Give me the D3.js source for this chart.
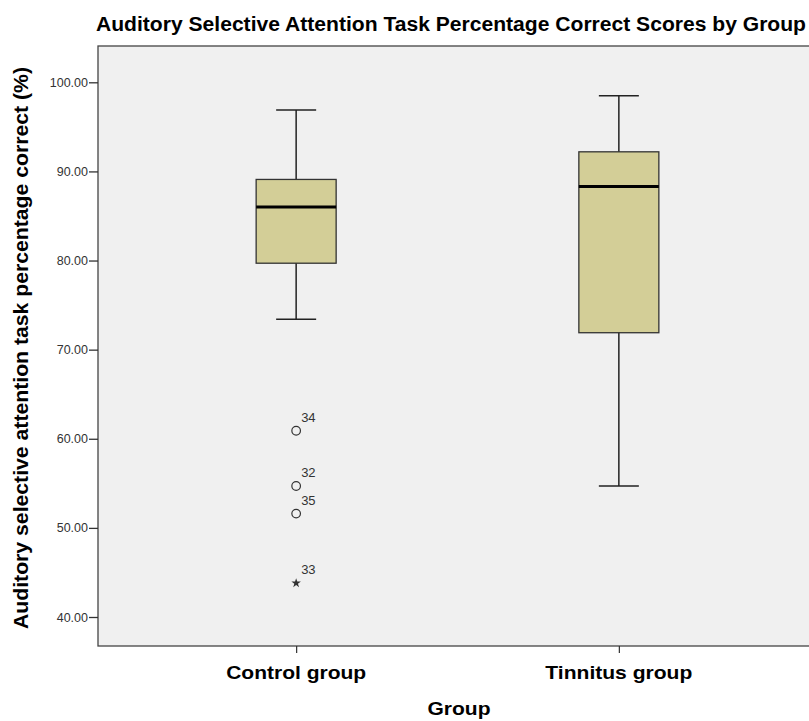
<!DOCTYPE html>
<html>
<head>
<meta charset="utf-8">
<script src="https://cdn.jsdelivr.net/npm/d3@7"></script>
<style>
  body { margin: 0; background: #fff; }
  text { font-family: Arial, "Liberation Sans", sans-serif; }
  .lab { font-family: "Liberation Sans Narrow", "Arial Narrow", Arial, sans-serif; font-weight: bold; }
</style>
</head>
<body>
<svg width="809" height="721"></svg>
<script>
// box summaries
var groups = ["Control group", "Tinnitus group"];
var whiskerHigh = [96.9, 98.5];
var q3 = [89.1, 92.2];
var medians = [86.0, 88.3];
var q1 = [79.7, 71.9];
var whiskerLow = [73.4, 54.7];

// outliers (circles) and extremes (stars), with case numbers
var outlierGroup = ["Control group", "Control group", "Control group"];
var outlierCase = [34, 32, 35];
var outlierValue = [60.9, 54.7, 51.6];
var extremeGroup = ["Control group"];
var extremeCase = [33];
var extremeValue = [43.8];

var yTicks = [40, 50, 60, 70, 80, 90, 100];

var svg = d3.select("svg"),
  frame = {left: 98, right: 820, top: 46, bottom: 646};

var x = d3.scalePoint().domain(groups).range([98, 817]).padding(0.614),
  y = d3.scaleLinear().domain([40, 100]).range([617, 82.3]),
  boxW = 80,
  capW = 40;

var boxes = groups.map(function(g, i) {
  return {group: g, hi: whiskerHigh[i], q3: q3[i], med: medians[i], q1: q1[i], lo: whiskerLow[i]};
});

// title
svg.append("text")
  .attr("class", "lab")
  .attr("x", 96).attr("y", 31)
  .attr("textLength", 710).attr("lengthAdjust", "spacingAndGlyphs")
  .style("font-size", "20px").attr("fill", "#000")
  .text("Auditory Selective Attention Task Percentage Correct Scores by Group");

// plot background
svg.append("rect")
  .attr("x", frame.left).attr("y", frame.top)
  .attr("width", frame.right - frame.left).attr("height", frame.bottom - frame.top)
  .attr("fill", "#f0f0f0").attr("stroke", "#444").attr("stroke-width", 1.3);

// y axis
var yAxis = svg.append("g")
  .attr("transform", "translate(" + frame.left + ",0)")
  .call(d3.axisLeft(y).tickValues(yTicks).tickSize(9).tickPadding(1).tickFormat(d3.format(".2f")));
yAxis.select(".domain").remove();
yAxis.selectAll(".tick line").attr("stroke", "#333").attr("stroke-width", 1.3);
yAxis.selectAll(".tick text").attr("fill", "#333").style("font-size", "12.5px").style("font-family", "Arial, 'Liberation Sans', sans-serif");

// x axis
var xAxis = svg.append("g")
  .attr("transform", "translate(0," + frame.bottom + ")")
  .call(d3.axisBottom(x).tickSize(7).tickFormat(""));
xAxis.select(".domain").remove();
xAxis.selectAll(".tick line").attr("stroke", "#333").attr("stroke-width", 1.2);

var tickLen = {"Control group": 140, "Tinnitus group": 147};
svg.selectAll(".xlab")
  .data(groups)
  .enter().append("text")
  .attr("class", "xlab lab")
  .attr("x", function(d) { return x(d); })
  .attr("y", 679)
  .attr("text-anchor", "middle")
  .attr("textLength", function(d) { return tickLen[d]; })
  .attr("lengthAdjust", "spacingAndGlyphs")
  .style("font-size", "19px")
  .text(function(d) { return d; });

svg.append("text")
  .attr("class", "lab")
  .attr("x", 459).attr("y", 715)
  .attr("text-anchor", "middle")
  .attr("textLength", 63).attr("lengthAdjust", "spacingAndGlyphs")
  .style("font-size", "19px")
  .text("Group");

svg.append("text")
  .attr("class", "lab")
  .attr("transform", "translate(28,348) rotate(-90)")
  .attr("text-anchor", "middle")
  .attr("textLength", 562).attr("lengthAdjust", "spacingAndGlyphs")
  .style("font-size", "20px")
  .text("Auditory selective attention task percentage correct (%)");

// whiskers
var b = svg.selectAll(".box")
  .data(boxes)
  .enter().append("g")
  .attr("class", "box");

b.append("line")
  .attr("x1", function(d) { return x(d.group); }).attr("x2", function(d) { return x(d.group); })
  .attr("y1", function(d) { return y(d.hi); }).attr("y2", function(d) { return y(d.lo); })
  .attr("stroke", "#222").attr("stroke-width", 1.5);

b.selectAll(".cap")
  .data(function(d) { return [{g: d.group, v: d.hi}, {g: d.group, v: d.lo}]; })
  .enter().append("line")
  .attr("x1", function(d) { return x(d.g) - capW / 2; }).attr("x2", function(d) { return x(d.g) + capW / 2; })
  .attr("y1", function(d) { return y(d.v); }).attr("y2", function(d) { return y(d.v); })
  .attr("stroke", "#222").attr("stroke-width", 1.5);

b.append("rect")
  .attr("x", function(d) { return x(d.group) - boxW / 2; })
  .attr("y", function(d) { return y(d.q3); })
  .attr("width", boxW)
  .attr("height", function(d) { return y(d.q1) - y(d.q3); })
  .attr("fill", "#d3ce97").attr("stroke", "#333").attr("stroke-width", 1.3);

b.append("line")
  .attr("x1", function(d) { return x(d.group) - boxW / 2; }).attr("x2", function(d) { return x(d.group) + boxW / 2; })
  .attr("y1", function(d) { return y(d.med); }).attr("y2", function(d) { return y(d.med); })
  .attr("stroke", "#000").attr("stroke-width", 3);

// outliers
var outliers = outlierCase.map(function(c, i) { return {g: outlierGroup[i], id: c, v: outlierValue[i]}; });
var extremes = extremeCase.map(function(c, i) { return {g: extremeGroup[i], id: c, v: extremeValue[i]}; });

svg.selectAll(".outlier")
  .data(outliers)
  .enter().append("circle")
  .attr("cx", function(d) { return x(d.g); })
  .attr("cy", function(d) { return y(d.v); })
  .attr("r", 4.3)
  .attr("fill", "none").attr("stroke", "#333").attr("stroke-width", 1.2);

svg.selectAll(".extreme")
  .data(extremes)
  .enter().append("path")
  .attr("transform", function(d) { return "translate(" + x(d.g) + "," + y(d.v) + ")"; })
  .attr("d", d3.symbol().type(d3.symbolStar).size(28))
  .attr("fill", "#333");

svg.selectAll(".caselab")
  .data(outliers.concat(extremes))
  .enter().append("text")
  .attr("x", function(d) { return x(d.g) + 5; })
  .attr("y", function(d) { return y(d.v) - 9; })
  .attr("fill", "#333")
  .style("font-size", "13px")
  .text(function(d) { return d.id; });
</script>
</body>
</html>
